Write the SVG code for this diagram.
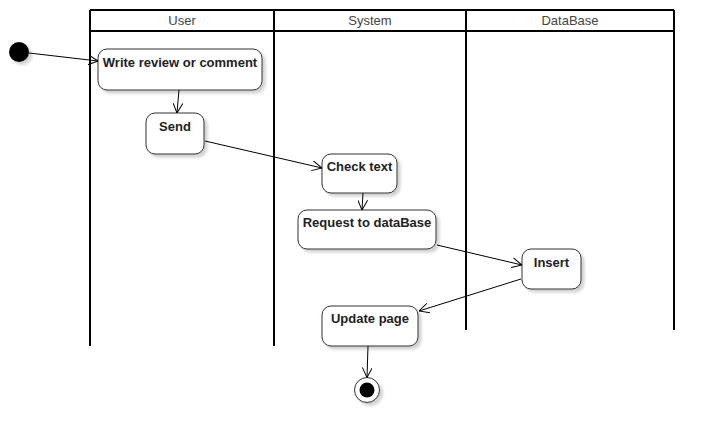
<svg xmlns="http://www.w3.org/2000/svg" width="714" height="443" viewBox="0 0 714 443">
<style>
.lane{fill:none;stroke:#000;stroke-width:2}
.hdr{font-family:"Liberation Sans",Arial,sans-serif;font-size:13px;fill:#444;text-anchor:middle}
.act{fill:#fff;stroke:#333;stroke-width:1}
.lbl{font-family:"Liberation Sans",Arial,sans-serif;font-size:13px;font-weight:bold;fill:#222;text-anchor:middle}
.edge{fill:none;stroke:#000;stroke-width:1;marker-end:url(#arr)}
</style>
<defs>
<filter id="sh" x="-20%" y="-20%" width="150%" height="160%">
<feDropShadow dx="3" dy="3" stdDeviation="1.5" flood-color="#000" flood-opacity="0.18"/>
</filter>
<marker id="arr" viewBox="0 0 10 10" refX="10" refY="5" markerWidth="10" markerHeight="10" markerUnits="userSpaceOnUse" orient="auto">
<path d="M0,0 L10,5 L0,10" fill="none" stroke="#000" stroke-width="1"/>
</marker>
</defs>
<rect width="714" height="443" fill="#fff"/>
<g id="swimlanes">
<line class="lane" x1="90" y1="10" x2="674" y2="10"/>
<line class="lane" x1="90" y1="31" x2="674" y2="31"/>
<line class="lane" x1="90" y1="10" x2="90" y2="346"/>
<line class="lane" x1="274" y1="10" x2="274" y2="346"/>
<line class="lane" x1="466" y1="10" x2="466" y2="330"/>
<line class="lane" x1="674" y1="10" x2="674" y2="330"/>
<text class="hdr" x="182" y="25">User</text>
<text class="hdr" x="370" y="25">System</text>
<text class="hdr" x="570" y="25">DataBase</text>
</g>
<g id="start">
<circle cx="19" cy="52" r="10" fill="#000" filter="url(#sh)"/>
</g>
<g id="write">
<rect class="act" x="98" y="49" width="164" height="41" rx="9" filter="url(#sh)"/>
<text class="lbl" x="180" y="67">Write review or comment</text>
</g>
<g id="send">
<rect class="act" x="146" y="113" width="58" height="41" rx="9" filter="url(#sh)"/>
<text class="lbl" x="175" y="131">Send</text>
</g>
<g id="check">
<rect class="act" x="322" y="154" width="75" height="39" rx="9" filter="url(#sh)"/>
<text class="lbl" x="359.5" y="171">Check text</text>
</g>
<g id="request">
<rect class="act" x="298" y="210" width="138" height="39" rx="9" filter="url(#sh)"/>
<text class="lbl" x="367" y="227">Request to dataBase</text>
</g>
<g id="insert">
<rect class="act" x="522" y="249" width="59" height="40" rx="9" filter="url(#sh)"/>
<text class="lbl" x="551.5" y="267">Insert</text>
</g>
<g id="update">
<rect class="act" x="322" y="306" width="96" height="40" rx="9" filter="url(#sh)"/>
<text class="lbl" x="370" y="323">Update page</text>
</g>
<g id="end">
<circle cx="367" cy="390" r="12.5" fill="#fff" stroke="#333" stroke-width="1" filter="url(#sh)"/>
<circle cx="367" cy="390" r="7.5" fill="#000"/>
</g>
<g id="connectors">
<path class="edge" d="M29,53 L98,61"/>
<path class="edge" d="M179,90 L177,113"/>
<path class="edge" d="M205,141 L322,168"/>
<path class="edge" d="M363,193 L362,210"/>
<path class="edge" d="M437,245 L522,265"/>
<path class="edge" d="M521,279 L419,311"/>
<path class="edge" d="M368,346 L367,377.5"/>
</g>
</svg>
